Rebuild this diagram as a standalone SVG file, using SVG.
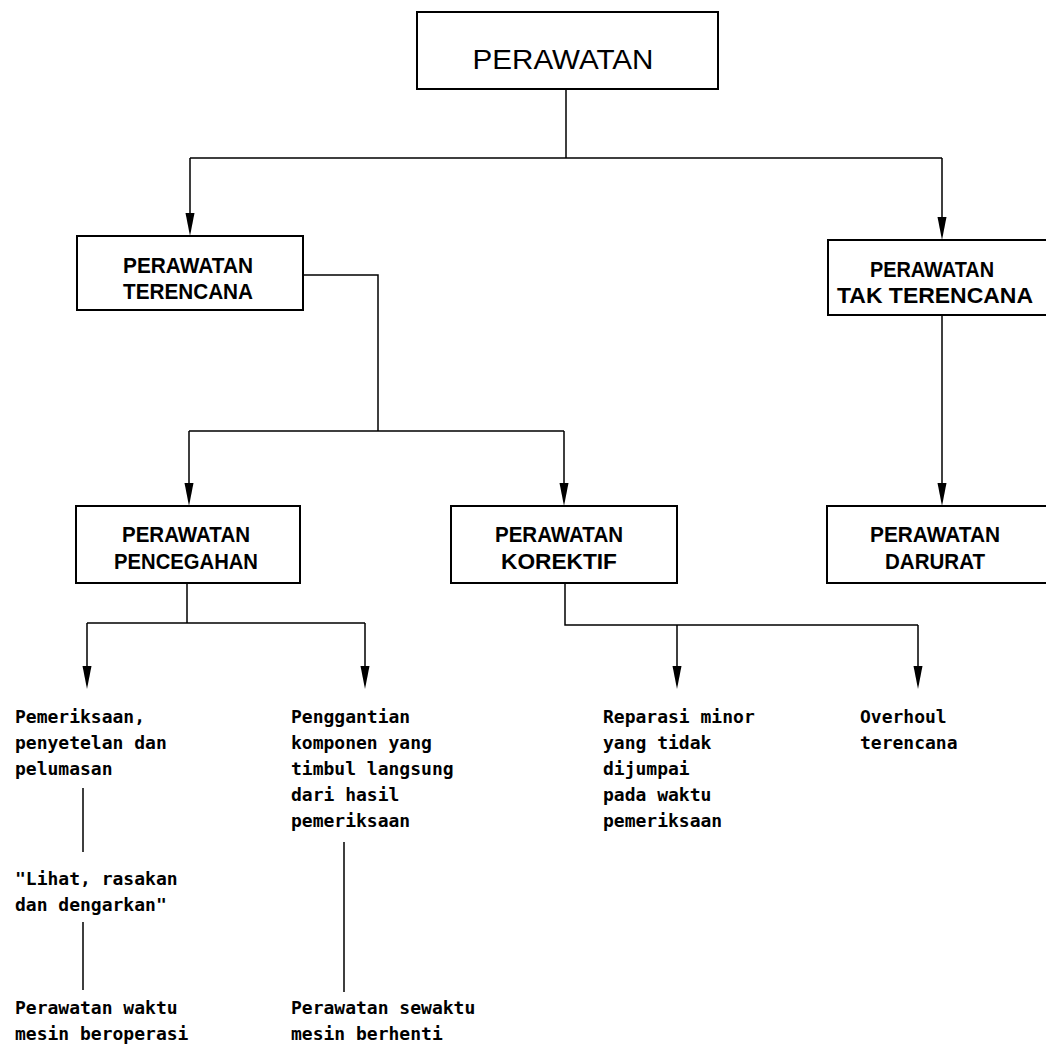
<svg xmlns="http://www.w3.org/2000/svg" width="1046" height="1051" viewBox="0 0 1046 1051">
<style>
.box{fill:none;stroke:#000;stroke-width:2}
.ln{fill:none;stroke:#000;stroke-width:1.5}
.ah{fill:#000;stroke:none}
.title{font-family:"Liberation Sans",Arial,sans-serif;font-size:28px;fill:#000;text-anchor:middle}
.bl{font-family:"Liberation Sans",Arial,sans-serif;font-weight:bold;font-size:22px;fill:#000;text-anchor:middle}
.tx{font-family:"DejaVu Sans Mono","Liberation Mono",monospace;font-weight:bold;font-size:18px;fill:#000}
</style>
<defs>
<path id="arr" class="ah" d="M-4.5,-23 L4.5,-23 L0,0 Z"/>
</defs>
<rect width="1046" height="1051" fill="#fff"/>

<g id="connectors">
<path class="ln" d="M566,89 V158 M190,158 H942 M190,158 V224 M942,158 V228"/>
<path class="ln" d="M303,275 H378 V431 M189,431 H564 M189,431 V494 M564,431 V494"/>
<path class="ln" d="M942,314 V494"/>
<path class="ln" d="M187,582 V623 M87,623 H365 M87,623 V676 M365,623 V676"/>
<path class="ln" d="M565,582 V625 H918 M677,625 V676 M918,625 V676"/>
<path class="ln" d="M83,788 V852 M83,922 V990 M344,842 V992"/>
<use href="#arr" x="190" y="236"/>
<use href="#arr" x="942" y="240"/>
<use href="#arr" x="189" y="506"/>
<use href="#arr" x="564" y="506"/>
<use href="#arr" x="942" y="506"/>
<use href="#arr" x="87" y="689"/>
<use href="#arr" x="365" y="689"/>
<use href="#arr" x="677" y="689"/>
<use href="#arr" x="918" y="689"/>
</g>

<g id="perawatan">
<rect class="box" x="417" y="12" width="301" height="77"/>
<text class="title" x="563" y="69" textLength="181" lengthAdjust="spacingAndGlyphs">PERAWATAN</text>
</g>

<g id="terencana">
<rect class="box" x="77" y="236" width="226" height="74"/>
<text class="bl" x="188" y="273" textLength="130" lengthAdjust="spacingAndGlyphs">PERAWATAN</text>
<text class="bl" x="188" y="299" textLength="130" lengthAdjust="spacingAndGlyphs">TERENCANA</text>
</g>

<g id="tak-terencana">
<rect class="box" x="828" y="240" width="232" height="75"/>
<text class="bl" x="932" y="277" textLength="124" lengthAdjust="spacingAndGlyphs">PERAWATAN</text>
<text class="bl" x="935" y="303" textLength="196" lengthAdjust="spacingAndGlyphs">TAK TERENCANA</text>
</g>

<g id="pencegahan">
<rect class="box" x="76" y="506" width="224" height="77"/>
<text class="bl" x="186" y="542" textLength="128" lengthAdjust="spacingAndGlyphs">PERAWATAN</text>
<text class="bl" x="186" y="569" textLength="144" lengthAdjust="spacingAndGlyphs">PENCEGAHAN</text>
</g>

<g id="korektif">
<rect class="box" x="451" y="506" width="226" height="77"/>
<text class="bl" x="559" y="542" textLength="128" lengthAdjust="spacingAndGlyphs">PERAWATAN</text>
<text class="bl" x="559" y="569" textLength="116" lengthAdjust="spacingAndGlyphs">KOREKTIF</text>
</g>

<g id="darurat">
<rect class="box" x="827" y="506" width="233" height="77"/>
<text class="bl" x="935" y="542" textLength="130" lengthAdjust="spacingAndGlyphs">PERAWATAN</text>
<text class="bl" x="935" y="569" textLength="100" lengthAdjust="spacingAndGlyphs">DARURAT</text>
</g>

<g id="pemeriksaan">
<text class="tx" x="15" y="723">Pemeriksaan,</text>
<text class="tx" x="15" y="749">penyetelan dan</text>
<text class="tx" x="15" y="775">pelumasan</text>
</g>

<g id="lihat">
<text class="tx" x="15" y="885">"Lihat, rasakan</text>
<text class="tx" x="15" y="911">dan dengarkan"</text>
</g>

<g id="waktu-beroperasi">
<text class="tx" x="15" y="1014">Perawatan waktu</text>
<text class="tx" x="15" y="1040">mesin beroperasi</text>
</g>

<g id="penggantian">
<text class="tx" x="291" y="723">Penggantian</text>
<text class="tx" x="291" y="749">komponen yang</text>
<text class="tx" x="291" y="775">timbul langsung</text>
<text class="tx" x="291" y="801">dari hasil</text>
<text class="tx" x="291" y="827">pemeriksaan</text>
</g>

<g id="sewaktu-berhenti">
<text class="tx" x="291" y="1014">Perawatan sewaktu</text>
<text class="tx" x="291" y="1040">mesin berhenti</text>
</g>

<g id="reparasi">
<text class="tx" x="603" y="723">Reparasi minor</text>
<text class="tx" x="603" y="749">yang tidak</text>
<text class="tx" x="603" y="775">dijumpai</text>
<text class="tx" x="603" y="801">pada waktu</text>
<text class="tx" x="603" y="827">pemeriksaan</text>
</g>

<g id="overhoul">
<text class="tx" x="860" y="723">Overhoul</text>
<text class="tx" x="860" y="749">terencana</text>
</g>
</svg>
